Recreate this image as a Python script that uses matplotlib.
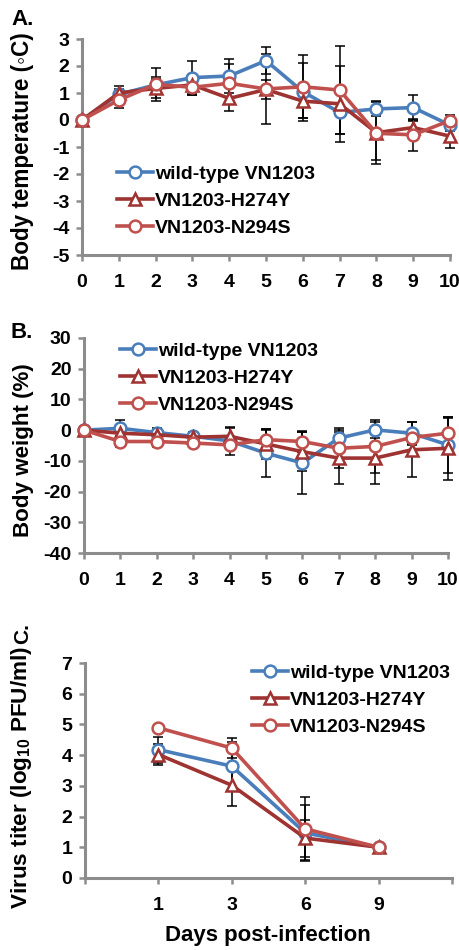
import numpy as np
import matplotlib
matplotlib.use("Agg")
import matplotlib.pyplot as plt

plt.rcParams['font.family'] = ['Liberation Sans', 'DejaVu Sans']
plt.rcParams['font.weight'] = 'bold'
plt.rcParams['axes.unicode_minus'] = False
plt.rcParams['mathtext.fontset'] = 'custom'
plt.rcParams['mathtext.rm'] = 'Liberation Sans:bold'
plt.rcParams['mathtext.bf'] = 'Liberation Sans:bold'

# ---------------- data ----------------
series_names = ['wild-type VN1203', 'VN1203-H274Y', 'VN1203-N294S']
days_ab = [0, 1, 2, 3, 4, 5, 6, 7, 8, 9, 10]

temp_wt = [0, 0.95, 1.3, 1.57, 1.63, 2.2, 1.05, 0.28, 0.41, 0.46, -0.19]
temp_wt_err = [0, 0.2, 0.3, 0.63, 0.63, 0.5, 1.07, 0.8, 0.27, 0.47, 0.2]
temp_h274y = [0, 1.0, 1.17, 1.3, 0.8, 1.13, 0.7, 0.6, -0.47, -0.28, -0.6]
temp_h274y_err = [0, 0.26, 0.35, 0.35, 0.45, 0.35, 0.62, 1.4, 1.17, 0.25, 0.45]
temp_n294s = [0, 0.74, 1.32, 1.21, 1.36, 1.15, 1.23, 1.11, -0.49, -0.55, -0.02]
temp_n294s_err = [0, 0.3, 0.62, 0.3, 0.7, 1.3, 1.17, 1.64, 1.0, 0.6, 0.2]

weight_wt = [0, 0.6, -0.8, -2.0, -3.5, -7.5, -10.7, -2.6, 0.1, -1.0, -4.8]
weight_wt_err = [0, 2.8, 1.5, 1.5, 4.5, 7.6, 10.0, 2.5, 2.7, 3.8, 9.0]
weight_h274y = [0, -1.0, -1.5, -2.3, -2.0, -4.5, -7.0, -9.1, -9.1, -6.4, -5.9]
weight_h274y_err = [0, 1.5, 1.5, 1.5, 2.6, 4.8, 6.3, 8.4, 8.4, 9.0, 10.2]
weight_n294s = [0, -3.7, -3.7, -4.2, -4.8, -3.1, -3.7, -5.9, -5.3, -2.4, -1.0]
weight_n294s_err = [0, 1.8, 1.8, 1.2, 1.5, 3.5, 3.5, 6.5, 8.7, 2.0, 5.0]

days_c = ['1', '3', '6', '9']
titer_wt = [4.18, 3.64, 1.47, 1.0]
titer_wt_err = [0.42, 0.8, 0.9, 0]
titer_h274y = [4.02, 3.02, 1.3, 1.0]
titer_h274y_err = [0.35, 0.68, 0.6, 0]
titer_n294s = [4.89, 4.23, 1.6, 1.0]
titer_n294s_err = [0, 0.33, 1.05, 0]

# ---------------- style ----------------
colors = ['#4A7EBB', '#9E3331', '#C0504D']
markers = ['o', '^', 'o']
gray = '#8C8C8C'
W, H = 460, 950

fig = plt.figure(figsize=(W / 100, H / 100), dpi=100)


def fx(px):
    return px / W


def fy(py):
    return 1 - py / H


def make_ax(left, right, top, bottom):
    return fig.add_axes([fx(left), fy(bottom), fx(right) - fx(left), fy(top) - fy(bottom)])


def style_ax(ax):
    for s in ['top', 'right']:
        ax.spines[s].set_visible(False)
    for s in ['left', 'bottom']:
        ax.spines[s].set_color(gray)
        ax.spines[s].set_linewidth(2.2)
    ax.tick_params(axis='both', colors=gray, width=1.8, length=4, direction='out',
                   labelcolor='black', labelsize=14)
    ax.tick_params(axis='x', pad=10)
    ax.tick_params(axis='y', pad=5)
    for lab in ax.get_xticklabels() + ax.get_yticklabels():
        lab.set_fontweight('bold')


def plot_series(ax, x, ys, errs):
    for i, (y, e) in enumerate(zip(ys, errs)):
        ax.errorbar(x, y, yerr=e, fmt='none', ecolor='black', elinewidth=1.1,
                    capsize=3.5, capthick=1.1, zorder=2 + i * 0.1, clip_on=False)
        ax.plot(x, y, color=colors[i], lw=2.6, marker=markers[i], ms=8.5,
                mfc='white', mec=colors[i], mew=1.8, zorder=3 + i * 0.1,
                clip_on=False, label=series_names[i])


def add_legend(ax, x_px, top_px):
    ax.legend(loc='upper left', bbox_to_anchor=(fx(x_px), fy(top_px)),
              bbox_transform=fig.transFigure, frameon=False, borderpad=0,
              borderaxespad=0, handlelength=1.85, handletextpad=0.1,
              labelspacing=0.5, numpoints=1, prop={'size': 14, 'weight': 'bold'})


def fit_ylabel(ax, text, x_px, yc_px, length_px, size=16):
    lab = ax.set_ylabel(text, fontsize=size, fontweight='bold')
    ax.yaxis.set_label_coords(fx(x_px), fy(yc_px), transform=fig.transFigure)
    fig.canvas.draw()
    ext = lab.get_window_extent()
    lab.set_fontsize(size * length_px / ext.height)


# ---------------- Panel A ----------------
axA = make_ax(82, 450, 39, 255)
plot_series(axA, days_ab, [temp_wt, temp_h274y, temp_n294s],
            [temp_wt_err, temp_h274y_err, temp_n294s_err])
axA.set_xlim(0, 10)
axA.set_ylim(-5, 3)
axA.set_xticks(days_ab)
axA.set_yticks(np.arange(-5, 4, 1))
style_ax(axA)
fit_ylabel(axA, 'Body temperature (◦C)', 34, 151, 238)
add_legend(axA, 117, 165)
fig.text(fx(11), fy(25), 'A.', fontsize=16, fontweight='bold', va='baseline')

# ---------------- Panel B ----------------
axB = make_ax(84, 448, 338, 553)
plot_series(axB, days_ab, [weight_wt, weight_h274y, weight_n294s],
            [weight_wt_err, weight_h274y_err, weight_n294s_err])
axB.set_xlim(0, 10)
axB.set_ylim(-40, 30)
axB.set_xticks(days_ab)
axB.set_yticks(np.arange(-40, 31, 10))
style_ax(axB)
fit_ylabel(axB, 'Body weight (%)', 34, 450, 174)
add_legend(axB, 120, 342)
fig.text(fx(11), fy(338), 'B.', fontsize=16, fontweight='bold', va='baseline')

# ---------------- Panel C ----------------
axC = make_ax(85, 452, 663, 878)
xc = np.arange(len(days_c))
plot_series(axC, xc, [titer_wt, titer_h274y, titer_n294s],
            [titer_wt_err, titer_h274y_err, titer_n294s_err])
axC.set_xlim(-1, len(days_c))
axC.set_ylim(0, 7)
axC.set_xticks(np.arange(-1, len(days_c) + 1))
axC.set_xticklabels([''] + days_c + [''])
axC.set_yticks(np.arange(0, 8, 1))
style_ax(axC)
fit_ylabel(axC, r'Virus titer (log$_{\mathbf{10}}$ PFU/ml)', 34, 778, 263)
axC.set_xlabel('Days post-infection', fontsize=16, fontweight='bold')
axC.xaxis.set_label_coords(fx(268), fy(925), transform=fig.transFigure)
add_legend(axC, 252, 664)
fig.text(fx(23), fy(634), 'C.', fontsize=15, fontweight='bold', rotation=90,
         ha='center', va='center')

fig.savefig('out.png', dpi=100)
